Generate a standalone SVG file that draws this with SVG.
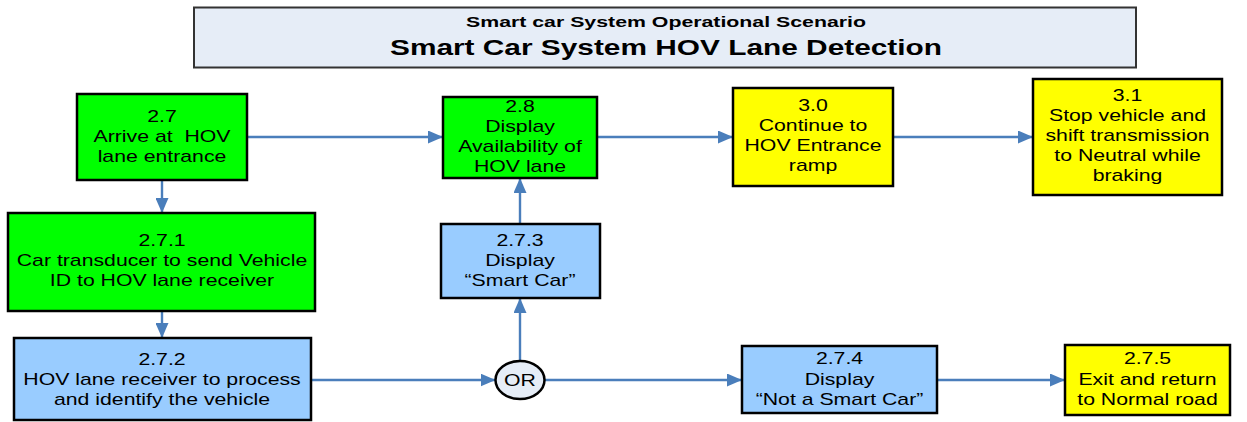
<svg xmlns="http://www.w3.org/2000/svg" width="1247" height="422" viewBox="0 0 1247 422">
  <style>
    .box{stroke:#000;stroke-width:2.5}
    .g{fill:#00ff00}
    .b{fill:#99ccff}
    .y{fill:#ffff00}
    .t{font-family:"Liberation Sans",Arial,sans-serif;font-size:17px;fill:#000;text-anchor:middle}
    .c{fill:none;stroke:#4a7ebb;stroke-width:2.4}
    .h{font-family:"Liberation Sans",Arial,sans-serif;font-weight:bold;fill:#000;text-anchor:middle}
  </style>
  <defs>
    <marker id="arr" markerUnits="userSpaceOnUse" markerWidth="15" markerHeight="13" refX="15" refY="6.5" orient="auto">
      <path d="M0,0 L15,6.5 L0,13 Z" fill="#4a7ebb"/>
    </marker>
  </defs>
  <rect width="1247" height="422" fill="#fff"/>

  <g id="title">
    <rect x="194" y="7.5" width="942" height="60" fill="#e6edf7" stroke="#333" stroke-width="2"/>
    <text class="h" x="666" y="27" font-size="15" textLength="400" lengthAdjust="spacingAndGlyphs">Smart car System Operational Scenario</text>
    <text class="h" x="666" y="55" font-size="22" textLength="552" lengthAdjust="spacingAndGlyphs">Smart Car System HOV Lane Detection</text>
  </g>

  <g id="connectors">
    <path class="c" d="M247,137 H443" marker-end="url(#arr)"/>
    <path class="c" d="M162,180 V213" marker-end="url(#arr)"/>
    <path class="c" d="M162,311 V338" marker-end="url(#arr)"/>
    <path class="c" d="M520,224 V178" marker-end="url(#arr)"/>
    <path class="c" d="M520,361 V298" marker-end="url(#arr)"/>
    <path class="c" d="M311,380 H495.5" marker-end="url(#arr)"/>
    <path class="c" d="M544.5,380 H742" marker-end="url(#arr)"/>
    <path class="c" d="M937,380 H1065" marker-end="url(#arr)"/>
    <path class="c" d="M597,137 H733" marker-end="url(#arr)"/>
    <path class="c" d="M893,137 H1033" marker-end="url(#arr)"/>
  </g>

  <g id="n2_7">
    <rect class="box g" x="77" y="94" width="170" height="86"/>
    <text class="t" xml:space="preserve" style="white-space:pre" transform="translate(162 0) scale(1.25 1)"><tspan x="0" y="122">2.7</tspan><tspan x="0" y="142">Arrive at  HOV</tspan><tspan x="0" y="162">lane entrance</tspan></text>
  </g>
  <g id="n2_7_1">
    <rect class="box g" x="8" y="213" width="307" height="98"/>
    <text class="t" transform="translate(162 0) scale(1.25 1)"><tspan x="0" y="246.5">2.7.1</tspan><tspan x="0" y="266.5">Car transducer to send Vehicle</tspan><tspan x="0" y="286.5">ID to HOV lane receiver</tspan></text>
  </g>
  <g id="n2_7_2">
    <rect class="box b" x="14" y="338" width="297" height="82"/>
    <text class="t" transform="translate(162 0) scale(1.25 1)"><tspan x="0" y="365">2.7.2</tspan><tspan x="0" y="385">HOV lane receiver to process</tspan><tspan x="0" y="405">and identify the vehicle</tspan></text>
  </g>
  <g id="n2_8">
    <rect class="box g" x="443" y="97" width="154" height="81"/>
    <text class="t" transform="translate(520 0) scale(1.25 1)"><tspan x="0" y="112">2.8</tspan><tspan x="0" y="132.5">Display</tspan><tspan x="0" y="152.5">Availability of</tspan><tspan x="0" y="172.5">HOV lane</tspan></text>
  </g>
  <g id="n2_7_3">
    <rect class="box b" x="441" y="224" width="159" height="74"/>
    <text class="t" transform="translate(520 0) scale(1.25 1)"><tspan x="0" y="246">2.7.3</tspan><tspan x="0" y="266.5">Display</tspan><tspan x="0" y="286.5">“Smart Car”</tspan></text>
  </g>
  <g id="n3_0">
    <rect class="box y" x="733" y="88" width="160" height="98"/>
    <text class="t" transform="translate(813 0) scale(1.25 1)"><tspan x="0" y="111.5">3.0</tspan><tspan x="0" y="131.5">Continue to</tspan><tspan x="0" y="151.5">HOV Entrance</tspan><tspan x="0" y="171">ramp</tspan></text>
  </g>
  <g id="n3_1">
    <rect class="box y" x="1033" y="79" width="189" height="116"/>
    <text class="t" transform="translate(1127.5 0) scale(1.25 1)"><tspan x="0" y="101.5">3.1</tspan><tspan x="0" y="121.5">Stop vehicle and</tspan><tspan x="0" y="141.5">shift transmission</tspan><tspan x="0" y="161.5">to Neutral while</tspan><tspan x="0" y="181.5">braking</tspan></text>
  </g>
  <g id="or">
    <ellipse cx="520" cy="380" rx="24.5" ry="19" fill="#e6edf7" stroke="#000" stroke-width="2.5"/>
    <text class="t" transform="translate(520 0) scale(1.25 1)"><tspan x="0" y="386">OR</tspan></text>
  </g>
  <g id="n2_7_4">
    <rect class="box b" x="742" y="346" width="195" height="67"/>
    <text class="t" transform="translate(839.5 0) scale(1.25 1)"><tspan x="0" y="364.5">2.7.4</tspan><tspan x="0" y="385">Display</tspan><tspan x="0" y="405">“Not a Smart Car”</tspan></text>
  </g>
  <g id="n2_7_5">
    <rect class="box y" x="1065" y="345" width="165" height="70"/>
    <text class="t" transform="translate(1147.5 0) scale(1.25 1)"><tspan x="0" y="364.5">2.7.5</tspan><tspan x="0" y="385">Exit and return</tspan><tspan x="0" y="405">to Normal road</tspan></text>
  </g>
</svg>
